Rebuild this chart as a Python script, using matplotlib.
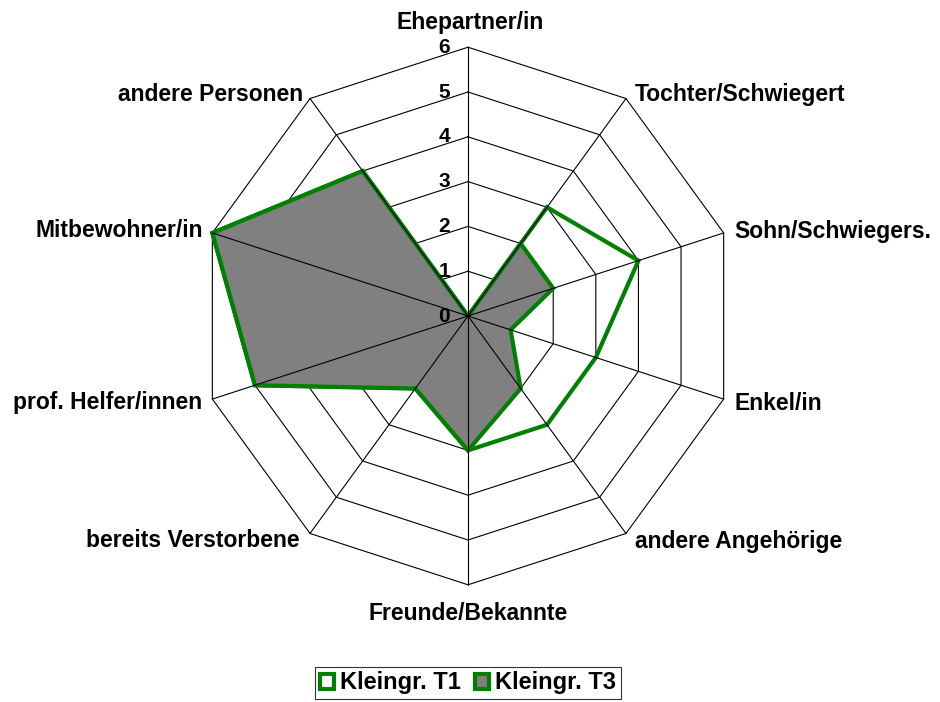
import matplotlib.pyplot as plt
import numpy as np
from matplotlib.patches import Rectangle

categories = ["Ehepartner/in", "Tochter/Schwiegert", "Sohn/Schwiegers.", "Enkel/in",
              "andere Angehörige", "Freunde/Bekannte", "bereits Verstorbene",
              "prof. Helfer/innen", "Mitbewohner/in", "andere Personen"]
t1 = [0, 3, 4, 3, 3, 3, 2, 5, 6, 4]
t3 = [0, 2, 2, 1, 2, 3, 2, 5, 6, 4]
ticks = [0, 1, 2, 3, 4, 5, 6]

plt.rcParams['font.family'] = ['Liberation Sans', 'DejaVu Sans']
plt.rcParams['font.weight'] = 'bold'

green = "#008000"
n = len(categories)
ang = np.arange(n) * 2 * np.pi / n  # clockwise from top
rmax = ticks[-1]


def xy(vals):
    v = np.asarray(vals, dtype=float)
    return v * np.sin(ang), v * np.cos(ang)


fig = plt.figure(figsize=(9.4, 7.02), dpi=100)
ax = fig.add_axes([0, 0, 1, 1])
u = 44.8  # pixels per unit
ax.set_xlim(-468 / u, 472 / u)
ax.set_ylim(-386 / u, 316 / u)
ax.axis("off")

# rings
for t in ticks[1:]:
    x, y = xy([t] * n)
    ax.plot(np.append(x, x[0]), np.append(y, y[0]), color="black", lw=0.8, zorder=1)

# series
x1, y1 = xy(t1)
ax.plot(np.append(x1, x1[0]), np.append(y1, y1[0]), color=green, lw=3, zorder=2,
        solid_joinstyle="miter")
x3, y3 = xy(t3)
ax.fill(x3, y3, facecolor="#808080", edgecolor=green, lw=3, zorder=3, joinstyle="miter")

# spokes
xe, ye = xy([rmax] * n)
for i in range(n):
    ax.plot([0, xe[i]], [0, ye[i]], color="black", lw=0.8, zorder=4)

# tick labels
for t in ticks:
    ax.annotate(str(t), xy=(0, t), xytext=(-18, 0), textcoords="offset pixels",
                ha="right", va="center", fontsize=15, fontweight="bold", zorder=5)

# category labels
offs = [(2, 18, "center"), (9, -2, "left"), (11, -5, "left"), (11, -11, "left"),
        (9, -15, "left"), (0, -35, "center"), (-10, -14, "right"), (-10, -10, "right"),
        (-9, -4, "right"), (-7, -2, "right")]
for i, lab in enumerate(categories):
    dx, dy, ha = offs[i]
    ax.annotate(lab, xy=(xe[i], ye[i]), xytext=(dx, dy), textcoords="offset pixels",
                ha=ha, va="baseline", fontsize=16.5, fontweight="bold")

h1 = Rectangle((0, 0), 1, 1, facecolor="white", edgecolor=green, lw=3)
h3 = Rectangle((0, 0), 1, 1, facecolor="#808080", edgecolor=green, lw=3)
leg = fig.legend([h1, h3], ["Kleingr. T1", "Kleingr. T3"], loc="center",
                 bbox_to_anchor=(468 / 940, 1 - 683 / 702), ncol=2,
                 prop={"size": 17, "weight": "bold"}, frameon=True, fancybox=False,
                 handlelength=0.6, handleheight=0.6, handletextpad=0.25,
                 columnspacing=0.6, borderpad=0.2, borderaxespad=0)
leg.get_frame().set_edgecolor("black")
leg.get_frame().set_linewidth(0.8)

fig.savefig("out.png", dpi=100)
